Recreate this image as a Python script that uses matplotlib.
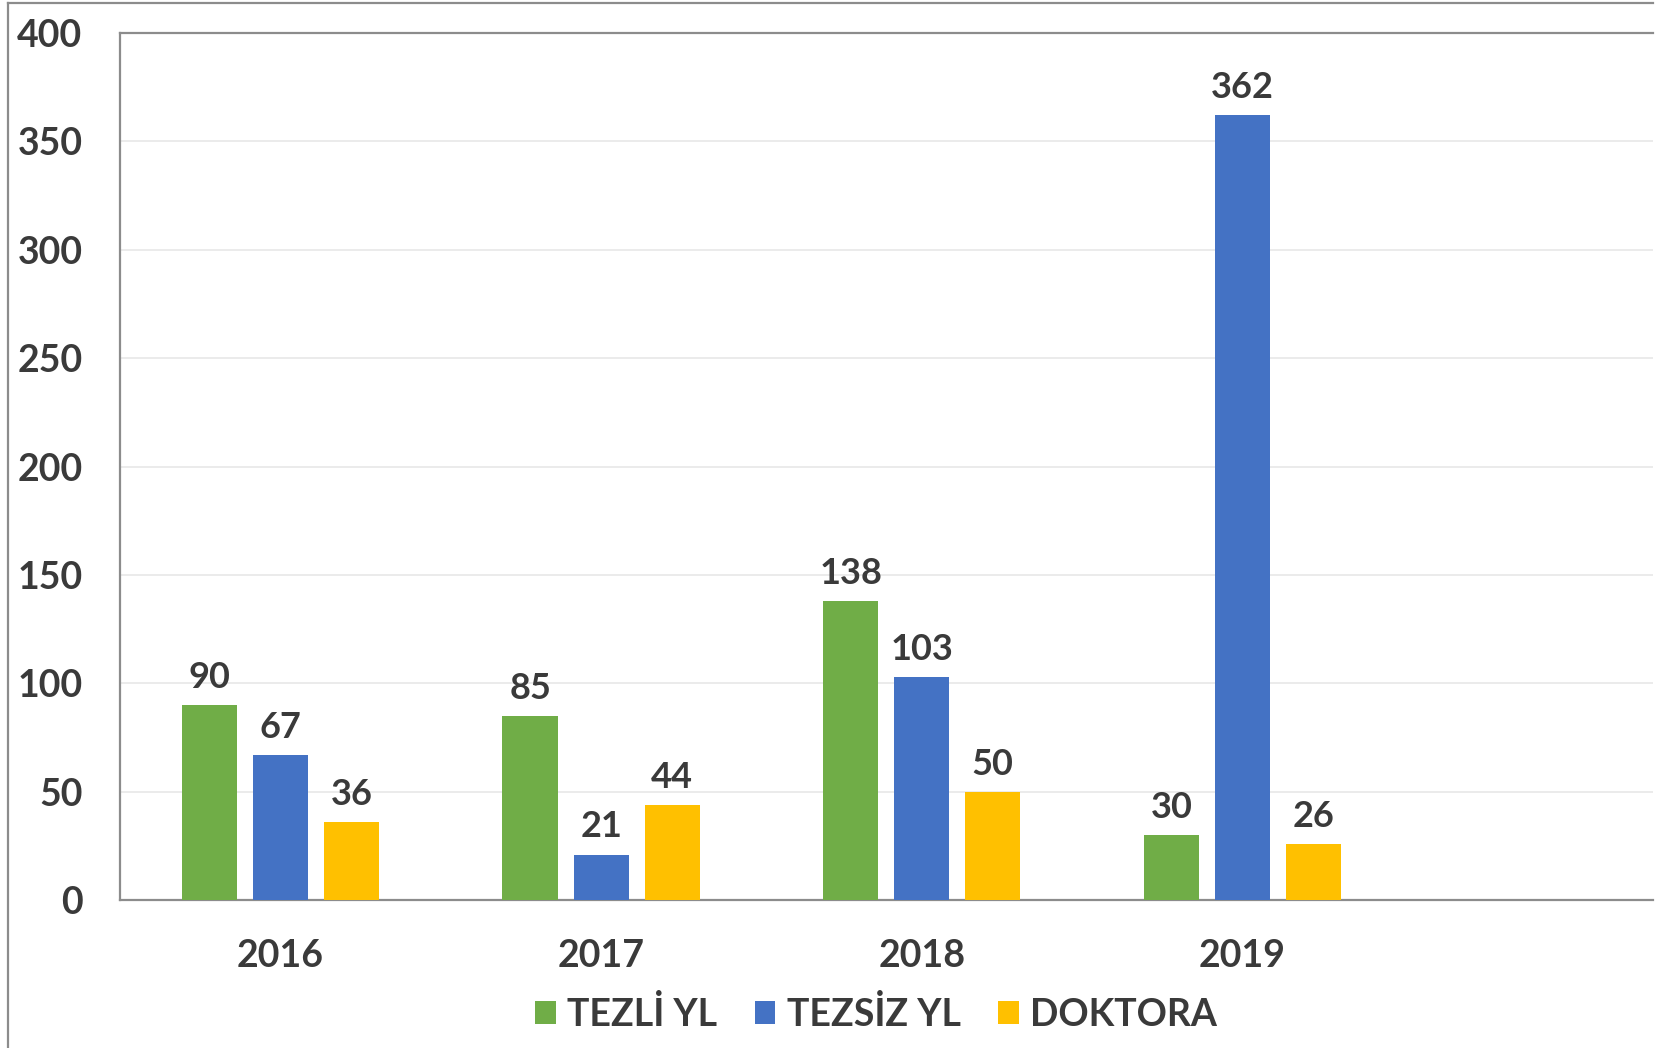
import numpy as np
import matplotlib
matplotlib.use('Agg')
import matplotlib.pyplot as plt
from matplotlib.lines import Line2D

plt.rcParams['font.family'] = ['Lato', 'DejaVu Sans']
plt.rcParams['font.weight'] = 'bold'

# veriler
yillar = ['2016', '2017', '2018', '2019']
seriler = ['TEZLİ YL', 'TEZSİZ YL', 'DOKTORA']
tezli = [90, 85, 138, 30]
tezsiz = [67, 21, 103, 362]
doktora = [36, 44, 50, 26]
renkler = ['#70AD47', '#4472C4', '#FFC000']
yazi_renk = '#3a3a3a'

fig = plt.figure(figsize=(16.7, 10.48), dpi=100)
ax = fig.add_axes([0.0719, 0.1412, 0.9898 - 0.0719, 0.9685 - 0.1412])

x = np.arange(len(yillar))
genislik = 0.172
aralik = 0.2215

for i, (degerler, renk, ad) in enumerate(zip([tezli, tezsiz, doktora], renkler, seriler)):
    bars = ax.bar(x + (i - 1) * aralik, degerler, genislik, color=renk, label=ad, zorder=3)
    for b, v in zip(bars, degerler):
        ax.annotate(str(v), (b.get_x() + b.get_width() / 2, v), xytext=(0, 8),
                    textcoords='offset points', ha='center', va='bottom',
                    fontsize=26, fontweight='bold', color=yazi_renk)

ax.set_ylim(0, 400)
ax.set_xlim(-0.5, 4.28)
ax.set_yticks(range(0, 401, 50))
ax.set_xticks(x)
ax.set_xticklabels(yillar)
ax.tick_params(axis='both', length=0, labelsize=27, colors=yazi_renk)
ax.tick_params(axis='y', pad=27)
ax.tick_params(axis='x', pad=28)
for lab in ax.get_xticklabels() + ax.get_yticklabels():
    lab.set_fontweight('bold')

ax.grid(axis='y', color='#e8e8e8', linewidth=1.2, zorder=0)
for s in ['left', 'top', 'bottom']:
    ax.spines[s].set_color('#8c8c8c')
    ax.spines[s].set_linewidth(1.6)
ax.spines['right'].set_visible(False)

leg = ax.legend(loc='center', bbox_to_anchor=(0.5246, 0.0324), bbox_transform=fig.transFigure,
                ncol=3, frameon=False, handlelength=0.55, handleheight=0.55, handletextpad=0.3,
                columnspacing=1.0, prop={'size': 27, 'weight': 'bold'})
for t in leg.get_texts():
    t.set_color(yazi_renk)

# dis cerceve
fig.add_artist(Line2D([8 / 1670, 8 / 1670], [0, 1 - 3 / 1048], transform=fig.transFigure,
                      color='#8c8c8c', linewidth=1.6))
fig.add_artist(Line2D([8 / 1670, 1653 / 1670], [1 - 3 / 1048, 1 - 3 / 1048], transform=fig.transFigure,
                      color='#8c8c8c', linewidth=1.6))

fig.savefig('out.png', dpi=100)
